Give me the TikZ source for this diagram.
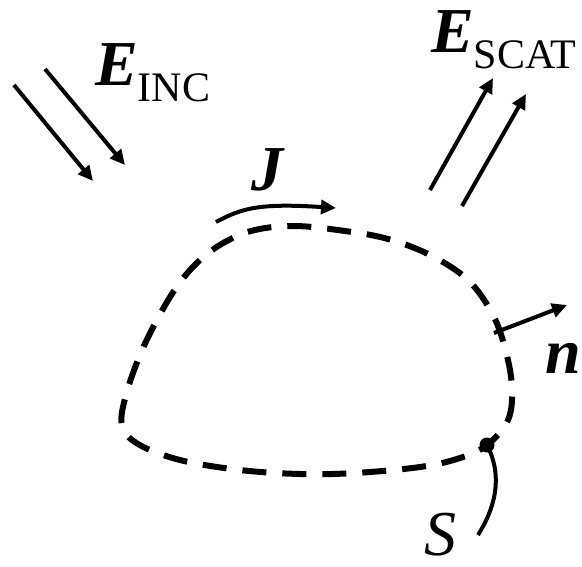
\documentclass[tikz,border=0pt]{standalone}
\usepackage{fontspec}
\setmainfont{Liberation Serif}
\usetikzlibrary{arrows.meta}
\begin{document}
\begin{tikzpicture}[x=1pt,y=-1pt,
  arr/.style={line width=4pt,-{Triangle[length=15pt,width=14pt]}},
  thin line/.style={line width=4pt},
  surf/.style={line width=6pt,dash pattern=on 24pt off 16pt},
  lbl/.style={inner sep=0pt,anchor=base west},
  big/.style={font=\fontsize{64}{64}\selectfont}]
\useasboundingbox (0,0) rectangle (582,566);
% dashed surface
\draw[surf] plot[smooth cycle,tension=0.6] coordinates {
 (487,445) (508,420) (512,388) (506,352) (493,315) (468,280) (430,255)
 (388,239) (345,231) (295,226) (255,230) (225,242) (200,260) (178,285)
 (158,318) (140,355) (126,395) (122,425) (138,444) (180,460) (240,470)
 (300,474) (355,473) (420,467) (460,458)};
% incident arrows
\coordinate (i1s) at (14,85); \coordinate (i1e) at (93,181);
\coordinate (i2s) at (45,69); \coordinate (i2e) at (125,165);
\draw[arr] (i1s) -- (i1e);
\draw[arr] (i2s) -- (i2e);
\node[lbl,big] (einc) at (95,85) {\textbf{\textit{E}}\raisebox{-16pt}{\fontsize{42}{42}\selectfont INC}};
% scattered arrows
\coordinate (s1s) at (430,190); \coordinate (s1e) at (493,78);
\coordinate (s2s) at (462,206); \coordinate (s2e) at (526,94);
\draw[arr] (s1s) -- (s1e);
\draw[arr] (s2s) -- (s2e);
\node[lbl,big] (escat) at (431,52) {\textbf{\textit{E}}\raisebox{-16pt}{\fontsize{42}{42}\selectfont SCAT}};
% current J
\coordinate (js) at (216,222); \coordinate (je) at (336,208);
\draw[arr] (js) .. controls (242,208) and (260,203) .. (je);
\node[lbl,big] (jl) at (251,190) {\textbf{\textit{J}}};
% normal n
\coordinate (ns) at (494,333); \coordinate (ne) at (567,305);
\draw[arr] (ns) -- (ne);
\node[lbl,big] (nl) at (545,373) {\textbf{\textit{n}}};
% S
\coordinate (sd) at (487,445); \coordinate (se) at (478,535);
\fill (sd) circle (7.5pt);
\draw[thin line] (sd) .. controls (500,470) and (500,500) .. (se);
\node[lbl,big] (sl) at (424,555) {\textit{S}};
\end{tikzpicture}
\end{document}
